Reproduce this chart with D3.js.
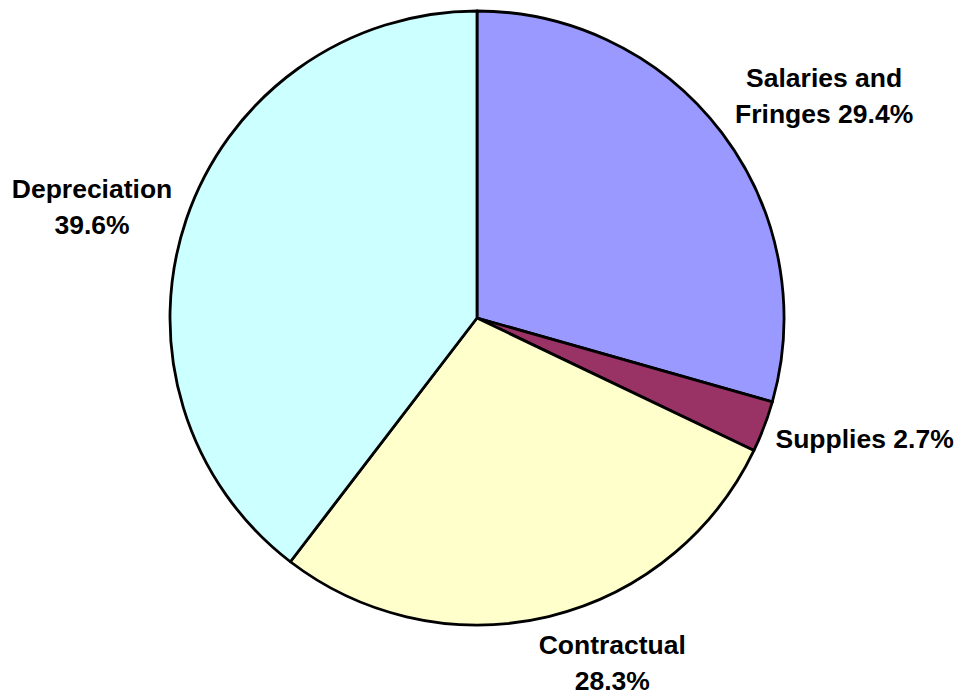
<!DOCTYPE html>
<html>
  <head>
    <style>
      body,
      html {
        width: 100%;
        height: 100%;
        margin: 0;
        padding: 0;
        overflow: hidden;
        background: #fff;
      }
      svg {
        display: block;
      }
    </style>
  </head>
  <body>
    <script src="https://cdn.jsdelivr.net/npm/d3@7"></script>
    <script>
      const width = 961;
      const height = 696;

      // slice data, clockwise from 12 o'clock
      const categories = ["Salaries and Fringes", "Supplies", "Contractual", "Depreciation"];
      const shares = [29.4, 2.7, 28.3, 39.6];
      const colors = ["#9999ff", "#993366", "#ffffcc", "#ccffff"];
      // label text lines
      const labelLines = [
        ["Salaries and", "Fringes 29.4%"],
        ["Supplies 2.7%"],
        ["Contractual", "28.3%"],
        ["Depreciation", "39.6%"],
      ];

      const cx = 477;
      const cy = 318;
      const radius = 307;

      const svg = d3
        .select("body")
        .append("svg")
        .attr("width", width)
        .attr("height", height);

      const pie = d3.pie().sort(null).value((d) => d);
      const arcs = pie(shares);

      const arc = d3.arc().innerRadius(0).outerRadius(radius);

      const g = svg.append("g").attr("transform", `translate(${cx},${cy})`);

      g.selectAll("path")
        .data(arcs)
        .enter()
        .append("path")
        .attr("d", arc)
        .attr("fill", (d, i) => colors[i])
        .attr("stroke", "#000")
        .attr("stroke-width", 2.8)
        .attr("stroke-linejoin", "round");

      // label placement: angle of slice centre, pushed out by a factor per slice,
      // then nudged a bit (excel style label spots)
      const labelDist = [1.25, 1.28, 1.12, 1.3];
      const nudgeX = [41, 20, 55, -7];
      const nudgeY = [9, -18, 11, 17];

      const labelPos = (d, i) => {
        const a = (d.startAngle + d.endAngle) / 2;
        const r = radius * labelDist[i];
        return [Math.sin(a) * r + nudgeX[i], -Math.cos(a) * r + nudgeY[i]];
      };

      const fontSize = 26.5;
      const lineGap = 36;

      const labels = g
        .selectAll("text")
        .data(arcs)
        .enter()
        .append("text")
        .attr("text-anchor", "middle")
        .attr("font-family", "'Liberation Sans', Arial, sans-serif")
        .attr("font-weight", "bold")
        .attr("font-size", fontSize + "px")
        .attr("fill", "#000")
        .attr("transform", (d, i) => {
          const p = labelPos(d, i);
          return `translate(${p[0]},${p[1]})`;
        });

      labels.each(function (d, i) {
        const lines = labelLines[i];
        const t = d3.select(this);
        const off = -((lines.length - 1) * lineGap) / 2 + 25.5 * 0.35;
        lines.forEach((ln, j) => {
          t.append("tspan")
            .attr("x", 0)
            .attr("y", off + j * lineGap)
            .text(ln);
        });
      });
    </script>
  </body>
</html>
